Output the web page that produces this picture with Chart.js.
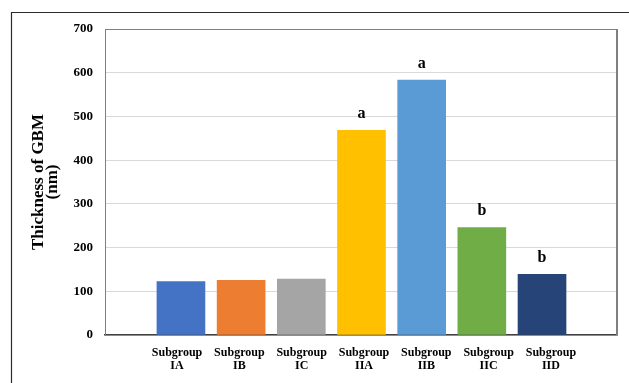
<!DOCTYPE html>
<html>
<head>
<meta charset="utf-8">
<script src="https://cdn.jsdelivr.net/npm/chart.js@4/dist/chart.umd.min.js"></script>
<style>
  html, body { margin: 0; padding: 0; background: #ffffff; }
  #wrap { width: 629px; height: 383px; position: relative; }
</style>
</head>
<body>
<div id="wrap"><canvas id="c" width="629" height="383"></canvas></div>
<script>
// ---- data ----
const groupWord = "Subgroup";
const categories = ["IA", "IB", "IC", "IIA", "IIB", "IIC", "IID"];
const thickness = [122, 125, 128, 468, 583, 246, 139];
const letters = ["", "", "", "a", "a", "b", "b"];
const barColors = ["#4472C4", "#ED7D31", "#A5A5A5", "#FFC000", "#5B9BD5", "#70AD47", "#264478"];
const yTicks = [0, 100, 200, 300, 400, 500, 600, 700];
const yTitle = ["Thickness of GBM", "(nm)"];

const serif = "'Liberation Serif', 'Times New Roman', serif";

const framePlugin = {
  id: 'frame',
  beforeDraw(chart) {
    const ctx = chart.ctx;
    ctx.save();
    ctx.strokeStyle = '#2b2b2b';
    ctx.lineWidth = 1.2;
    ctx.beginPath();
    ctx.moveTo(11.5, 383);
    ctx.lineTo(11.5, 12.5);
    ctx.lineTo(629, 12.5);
    ctx.stroke();
    ctx.restore();
  },
  afterDatasetsDraw(chart) {
    const a = chart.chartArea;
    const ctx = chart.ctx;
    ctx.save();
    ctx.strokeStyle = '#7f7f7f';
    ctx.lineWidth = 1;
    ctx.beginPath();
    ctx.moveTo(a.left, a.top + 0.5);
    ctx.lineTo(a.right, a.top + 0.5);
    ctx.stroke();
    ctx.lineWidth = 2;
    ctx.beginPath();
    ctx.moveTo(a.right, a.top);
    ctx.lineTo(a.right, a.bottom);
    ctx.stroke();
    ctx.restore();
  }
};

const letterPlugin = {
  id: 'letters',
  afterDatasetsDraw(chart) {
    const meta = chart.getDatasetMeta(0);
    const ctx = chart.ctx;
    ctx.save();
    ctx.font = "bold 16px " + serif;
    ctx.fillStyle = '#000';
    ctx.textAlign = 'center';
    ctx.textBaseline = 'alphabetic';
    meta.data.forEach((bar, i) => {
      if (letters[i]) ctx.fillText(letters[i], bar.x, bar.y - 12);
    });
    ctx.restore();
  }
};

new Chart(document.getElementById('c'), {
  type: 'bar',
  data: {
    datasets: [{
      data: categories.map((c, i) => ({ x: i, y: thickness[i] })),
      backgroundColor: barColors,
      borderWidth: 0,
      barThickness: 48,
      xAxisID: 'x',
      yAxisID: 'y'
    }]
  },
  plugins: [framePlugin, letterPlugin],
  options: {
    responsive: false,
    animation: false,
    events: [],
    layout: { padding: { top: 29, right: 12, left: 0, bottom: 0 } },
    plugins: { legend: { display: false }, tooltip: { enabled: false } },
    scales: {
      x: {
        type: 'linear',
        display: false,
        offset: false,
        min: -1.262,
        max: 7.246
      },
      xl: {
        type: 'linear',
        position: 'bottom',
        offset: false,
        min: -1.156,
        max: 7.06,
        afterBuildTicks(scale) {
          scale.ticks = categories.map((c, i) => ({ value: i }));
        },
        afterFit(scale) { scale.height = 48; },
        grid: { display: false, drawTicks: false, offset: false },
        border: { display: true, color: '#404040', width: 1.5 },
        ticks: {
          autoSkip: false,
          maxRotation: 0,
          padding: 11,
          color: '#000',
          font: { family: serif, size: 12, weight: 'bold', lineHeight: 1.1 },
          callback(v) { return Number.isInteger(v) && categories[v] ? [groupWord, categories[v]] : ''; }
        }
      },
      y: {
        type: 'linear',
        min: 0,
        max: 700,
        afterBuildTicks(scale) {
          scale.ticks = yTicks.map(v => ({ value: v }));
        },
        afterFit(scale) { scale.width = 105; },
        grid: { color: '#d9d9d9', lineWidth: 1, drawTicks: false },
        border: { display: true, color: '#7f7f7f', width: 1 },
        ticks: {
          padding: 12,
          color: '#000',
          font: { family: serif, size: 13, weight: 'bold' }
        },
        title: {
          display: true,
          text: yTitle,
          color: '#000',
          padding: { top: 31, bottom: 0 },
          font: { family: serif, size: 17, weight: 'bold', lineHeight: 0.85 }
        }
      }
    }
  }
});
</script>
</body>
</html>
